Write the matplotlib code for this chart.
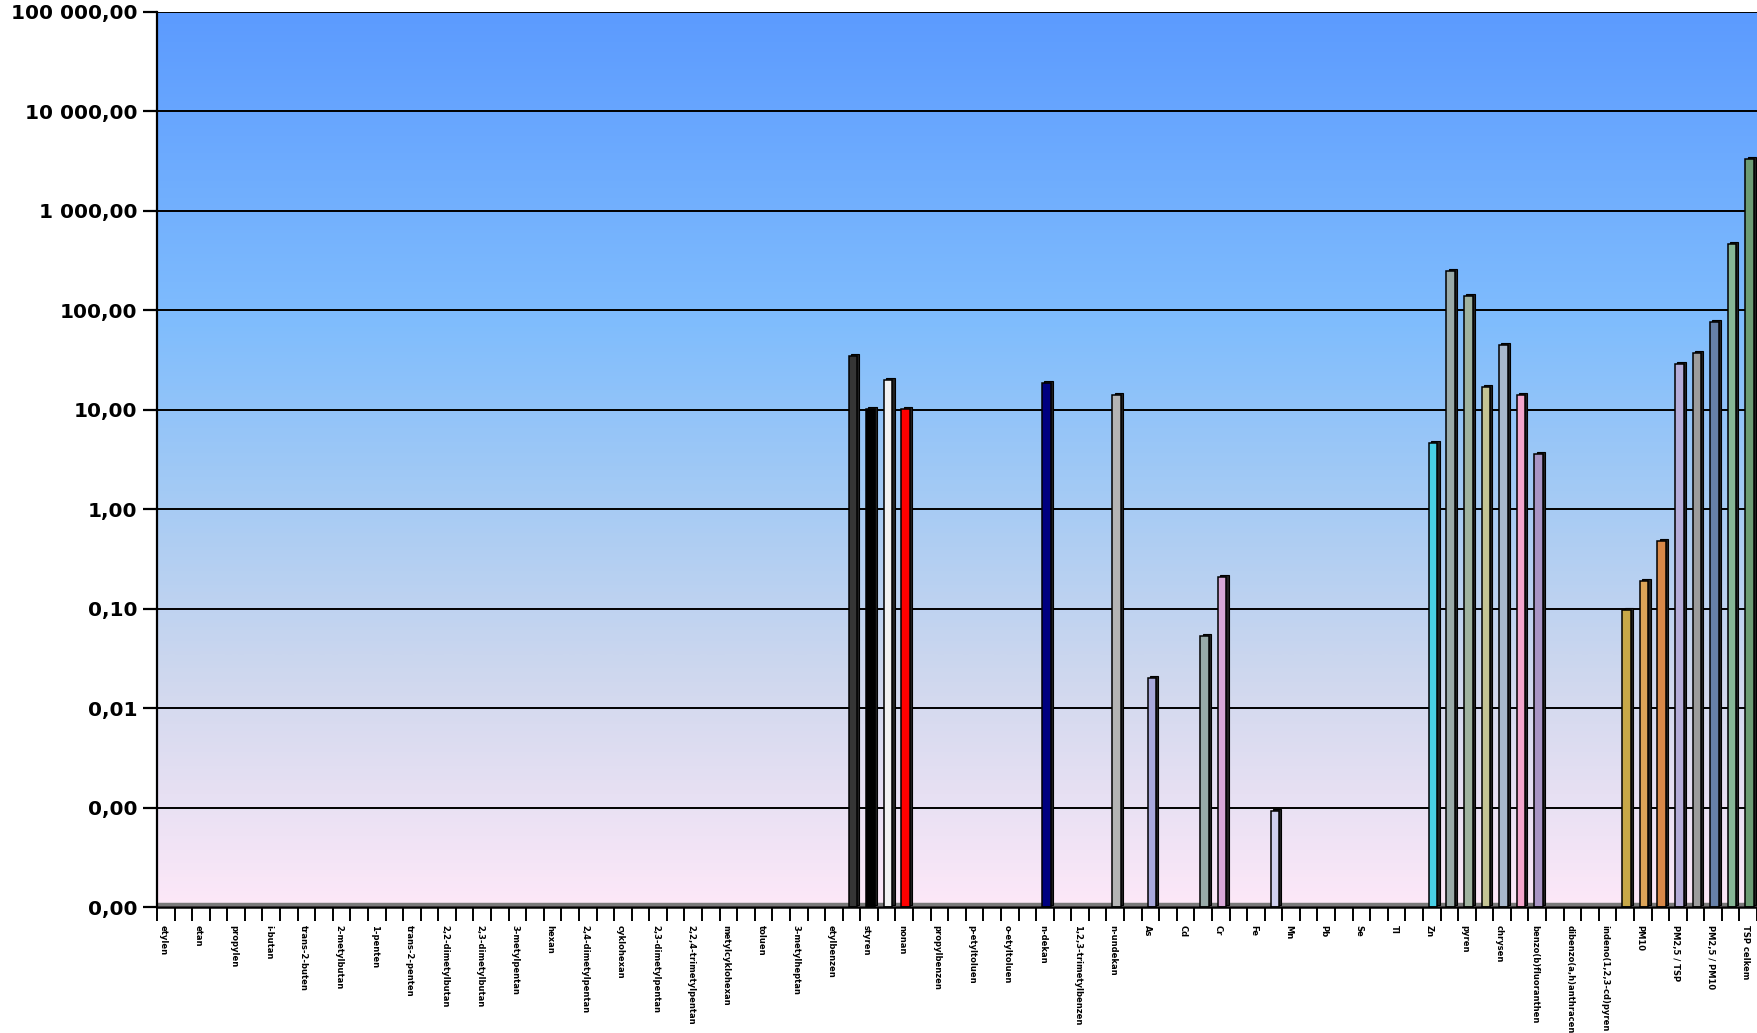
import numpy as np
import matplotlib
matplotlib.use("Agg")
import matplotlib.pyplot as plt
from matplotlib.colors import LinearSegmentedColormap
from matplotlib.transforms import ScaledTranslation

# ---------------- data ----------------
categories = [
    "etylen", "acetylen", "etan", "propan", "propylen", "propin", "i-butan", "n-butan",
    "trans-2-buten", "1-buten", "2-metylbutan", "cis-2-buten", "1-penten", "n-pentan",
    "trans-2-penten", "cis-2-penten", "2,2-dimetylbutan", "isopren", "2,3-dimetylbutan",
    "2-metylpentan", "3-metylpentan", "1-hexen", "hexan", "metylcyklopentan",
    "2,4-dimetylpentan", "benzen", "cyklohexan", "2-metylhexan", "2,3-dimetylpentan",
    "3-metylhexan", "2,2,4-trimetylpentan", "n-heptan", "metylcyklohexan",
    "2,3,4-trimetylpentan", "toluen", "2-metylheptan", "3-metylheptan", "n-oktan",
    "etylbenzen", "m,p-xylen", "styren", "o-xylen", "nonan", "isopropylbenzen",
    "propylbenzen", "m-etyltoluen", "p-etyltoluen", "1,3,5-trimetylbenzen",
    "o-etyltoluen", "1,2,4-trimetylbenzen", "n-dekan", "m-dietylbenzen",
    "1,2,3-trimetylbenzen", "p-dietylbenzen", "n-undekan", "n-dodekan",
    "As", "Be", "Cd", "Co", "Cr", "Cu", "Fe", "Hg", "Mn", "Ni", "Pb", "Sb", "Se",
    "Sn", "Tl", "V", "Zn",
    "fluoranten", "pyren", "benzo(a)antracen", "chrysen", "benzo(k)fluoranten",
    "benzo(b)fluoranthen", "benzo(a)pyren", "dibenzo(a,h)anthracen",
    "benzo(g,h,i)perylen", "indeno(1,2,3-cd)pyren",
    "PM2,5", "PM10", "TSP", "PM2,5 / TSP", "PM10 / TSP", "PM2,5 / PM10", "O3",
    "TSP celkem",
]

values = [0.0] * len(categories)
bar_values = {
    39: 35.0, 40: 10.2, 41: 19.8, 42: 10.2, 50: 18.8, 54: 14.2,
    56: 0.020, 59: 0.053, 60: 0.21, 63: 0.00092,
    72: 4.6, 73: 250.0, 74: 140.0, 75: 17.0, 76: 45.0, 77: 14.0, 78: 3.6,
    83: 0.097, 84: 0.19, 85: 0.48, 86: 29.0, 87: 37.0, 88: 76.0, 89: 460.0,
    90: 3300.0,
}
for k, v in bar_values.items():
    values[k] = v

bar_colors = {
    39: "#353535", 40: "#000000", 41: "#f2f2f2", 42: "#ff0000", 50: "#000080",
    54: "#b4b4b4", 56: "#a8a8dc", 59: "#98aaa8", 60: "#d8a8d8", 63: "#cfcfee",
    72: "#48d0e6", 73: "#9aaaa8", 74: "#9fb29f", 75: "#c4c494", 76: "#a8b8cc",
    77: "#f4a6cc", 78: "#a894c4", 83: "#c8a848", 84: "#dca458", 85: "#d88848",
    86: "#b4acd8", 87: "#9c9c9c", 88: "#6680a8", 89: "#86b696", 90: "#6c9c74",
}

ytick_values = [1e-4, 1e-3, 1e-2, 1e-1, 1, 10, 100, 1000, 10000, 100000]
ytick_labels = ["0,00", "0,00", "0,01", "0,10", "1,00", "10,00", "100,00",
                "1 000,00", "10 000,00", "100 000,00"]

# ---------------- figure ----------------
W, H = 1758, 1033
fig = plt.figure(figsize=(W / 100, H / 100), dpi=100)
fig.patch.set_facecolor("white")
ax = fig.add_axes([157 / W, 1 - 907 / H, (1757 - 157) / W, (907 - 12) / H])

ymin, ymax = 1e-4, 1e5
n = len(categories)
ax.set_yscale("log")
ax.set_xlim(-0.5, n - 0.5)
ax.set_ylim(ymin, ymax)

# gradient background (top blue -> bottom pink)
cmap = LinearSegmentedColormap.from_list(
    "bg", [(0.0, "#5c9bff"), (0.35, "#80bdfd"), (0.55, "#a6cbf4"),
           (0.75, "#d0d8ee"), (1.0, "#fde8f8")])
grad = np.linspace(0, 1, 256).reshape(-1, 1)
ax.imshow(grad, cmap=cmap, aspect="auto", extent=(0, 1, 0, 1), origin="upper",
          transform=ax.transAxes, zorder=0, interpolation="bicubic")

# gridlines
for yv in ytick_values[1:]:
    ax.axhline(yv, color="black", lw=1.4, zorder=1)

# floor (3D base)
ax.plot([0, 1], [0.003, 0.003], transform=ax.transAxes, color="#7a7a7a",
        lw=2.5, zorder=2, solid_capstyle="butt")

# bars
x = np.arange(n)
vals = np.array(values)
mask = vals > 0
xs = x[mask]
vs = vals[mask]
cols = [bar_colors[k] for k in xs]
shadow = ax.transData + ScaledTranslation(1.6 / 72, 1.4 / 72, fig.dpi_scale_trans)
ax.bar(xs + 0.08, vs - ymin, bottom=ymin, width=0.48, color="#202020",
       edgecolor="#000000", lw=0.8, zorder=3, transform=shadow)
ax.bar(xs + 0.08, vs - ymin, bottom=ymin, width=0.48, color=cols,
       edgecolor="#000000", lw=1.1, zorder=4)

# axes styling
for s in ["right", "top"]:
    ax.spines[s].set_visible(False)
ax.spines["left"].set_linewidth(1.6)
ax.spines["bottom"].set_linewidth(1.8)
ax.spines["left"].set_zorder(5)
ax.spines["bottom"].set_zorder(5)

ax.set_yticks(ytick_values)
ax.set_yticklabels(ytick_labels)
ax.yaxis.set_minor_locator(matplotlib.ticker.NullLocator())
ax.tick_params(axis="y", which="major", length=10, width=1.6, pad=4,
               labelsize=14.5, colors="black")
for t in ax.get_yticklabels():
    t.set_fontweight("bold")

ax.set_xticks(np.arange(-0.5, n, 1.0))
ax.set_xticklabels([])
ax.tick_params(axis="x", which="major", length=10, width=1.4, direction="out")
ax.set_xticks(np.arange(0, n, 2) - 0.15, minor=True)
ax.set_xticklabels([categories[i] for i in range(0, n, 2)], minor=True,
                   rotation=270, fontsize=6, fontweight="bold",
                   va="top", ha="center")
ax.tick_params(axis="x", which="minor", length=0, pad=13)

fig.savefig("out.png", dpi=100, facecolor="white")
